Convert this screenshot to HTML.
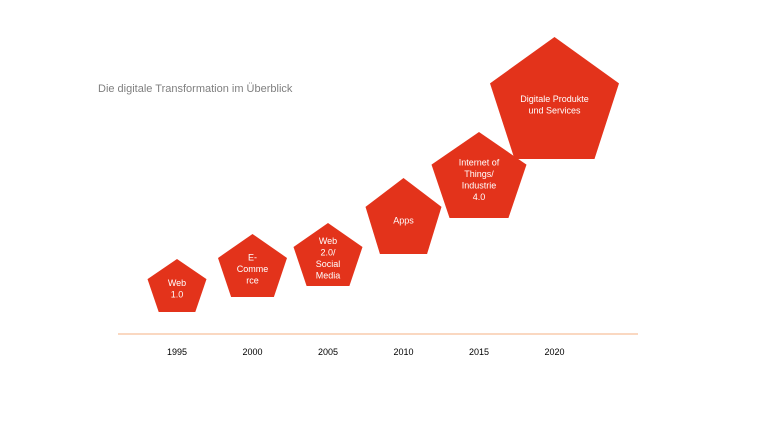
<!DOCTYPE html>
<html><head><meta charset="utf-8"><style>
body{margin:0;background:#fff;width:768px;height:432px;overflow:hidden;font-family:"Liberation Sans",sans-serif}
</style></head><body>
<svg width="768" height="432">
<text x="98" y="92" font-size="11" fill="#7f7f7f">Die digitale Transformation im Überblick</text>
<line x1="118" y1="334" x2="638" y2="334" stroke="#f4b183" stroke-width="1"/>
<g id="g"></g>
</svg>
<script>
const years=["1995","2000","2005","2010","2015","2020"];
const labels=[["Web","1.0"],["E-","Comme","rce"],["Web","2.0/","Social","Media"],["Apps"],["Internet of","Things/","Industrie","4.0"],["Digitale Produkte","und Services"]];
const levels=[259,234,223,178,132,37];
const sizes=[59,69,69,76,95,129];
const heights=[53,63,63,76,86,122];
const ns="http://www.w3.org/2000/svg",g=document.getElementById("g");
const xs=i=>177+i*75.5;
years.forEach((y,i)=>{
  const cx=xs(i),w=sizes[i],h=heights[i],t=levels[i],l=cx-w/2;
  const p=document.createElementNS(ns,"polygon");
  p.setAttribute("points",[[.5,0],[1,.38],[.81,1],[.19,1],[0,.38]].map(q=>(l+q[0]*w)+","+(t+q[1]*h)).join(" "));
  p.setAttribute("fill","#e3331b");
  
  
  g.appendChild(p);
  const lines=labels[i],lh=11.5,cy=t+h*0.55-(lines.length-1)*lh/2;
  lines.forEach((s,j)=>{
    const tx=document.createElementNS(ns,"text");
    tx.setAttribute("x",cx);tx.setAttribute("y",cy+j*lh+3.5);
    tx.setAttribute("text-anchor","middle");tx.setAttribute("font-size","9");tx.setAttribute("fill","#fff");
    tx.textContent=s;
    
    
    g.appendChild(tx);
  });
  const yt=document.createElementNS(ns,"text");
  yt.setAttribute("x",cx);yt.setAttribute("y",355);
  yt.setAttribute("text-anchor","middle");yt.setAttribute("font-size","9");yt.setAttribute("fill","#000");
  yt.textContent=y;
  
  
  g.appendChild(yt);
});
</script>
</body></html>
